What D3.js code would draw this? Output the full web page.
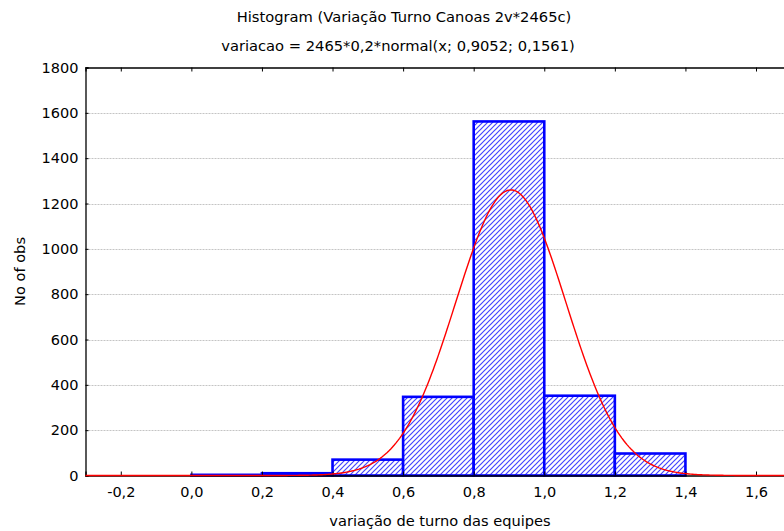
<!DOCTYPE html>
<html>
  <head>
    <meta charset="utf-8">
    <style>
      body { margin: 0; background: #fff; }
      svg { display: block; font-family: "DejaVu Sans", sans-serif; }
    </style>
  </head>
  <body>
    <script src="https://d3js.org/d3.v7.min.js"></script>
    <script type="text/javascript">

      // histogram bins (left edge of each 0,2 wide bin) and counts
      const binStarts = [0.0, 0.2, 0.4, 0.6, 0.8, 1.0, 1.2];
      const binCounts = [3, 10, 70, 347, 1562, 352, 97];
      const binWidth = 0.2;

      // fitted normal: 2465*0,2*normal(x; 0,9052; 0,1561)
      const nObs = 2465;
      const fitMean = 0.9052;
      const fitSd = 0.1561;

      const xTicks = [-0.2, 0.0, 0.2, 0.4, 0.6, 0.8, 1.0, 1.2, 1.4, 1.6];
      const yTicks = [0, 200, 400, 600, 800, 1000, 1200, 1400, 1600, 1800];

      const titleText = 'Histogram (Variação Turno Canoas 2v*2465c)';
      const subtitleText = 'variacao = 2465*0,2*normal(x; 0,9052; 0,1561)';
      const xTitle = 'variação de turno das equipes';
      const yTitle = 'No of obs';

      const width = 784;
      const height = 531;
      const plotLeft = 85.5, plotTop = 67.5, plotBottom = 475.5;

      const svg = d3.select('body')
        .append('svg')
        .attr('width', width)
        .attr('height', height);

      const xScale = d3.scaleLinear()
        .domain([-0.3, 1.7])
        .range([plotLeft, plotLeft + 2 * 352.9]);

      const yScale = d3.scaleLinear()
        .domain([0, 1800])
        .range([plotBottom, plotTop]);

      const ptBr = d3.formatLocale({ decimal: ',', thousands: '.', grouping: [3], currency: ['', ''], minus: '-' });
      const fmtX = ptBr.format('.1f');

      // hatch pattern
      const defs = svg.append('defs');
      const pat = defs.append('pattern')
        .attr('id', 'hatch')
        .attr('patternUnits', 'userSpaceOnUse')
        .attr('width', 5)
        .attr('height', 5);
      pat.append('rect').attr('width', 5).attr('height', 5).attr('fill', '#fff');
      pat.append('path')
        .attr('d', 'M-1,6 L6,-1 M-1,1 L1,-1 M4,6 L6,4')
        .attr('stroke', '#4444ff')
        .attr('stroke-width', 1.2);

      // gridlines
      svg.append('g')
        .selectAll('line')
        .data(yTicks.filter((d) => d > 0 && d < 1800))
        .enter()
        .append('line')
        .attr('x1', plotLeft)
        .attr('x2', width)
        .attr('y1', (d) => Math.round(yScale(d)) + 0.5)
        .attr('y2', (d) => Math.round(yScale(d)) + 0.5)
        .attr('stroke', '#c4c4c4')
        .attr('stroke-dasharray', '2,1');

      // bars
      svg.append('g')
        .selectAll('rect')
        .data(binStarts.map((s, i) => ({ x0: s, x1: s + binWidth, n: binCounts[i] })))
        .enter()
        .append('rect')
        .attr('x', (d) => xScale(d.x0))
        .attr('width', (d) => xScale(d.x1) - xScale(d.x0))
        .attr('y', (d) => yScale(d.n))
        .attr('height', (d) => yScale(0) - yScale(d.n))
        .attr('fill', 'url(#hatch)')
        .attr('stroke', '#0000ff')
        .attr('stroke-width', 2.6);

      // axes
      const axisLeft = d3.axisLeft(yScale).tickValues(yTicks).tickSize(-3).tickPadding(7).tickFormat(d3.format('d'));
      svg.append('g')
        .attr('class', 'axis')
        .attr('transform', `translate(${plotLeft}, 0)`)
        .call(axisLeft);

      const axisBottom = d3.axisBottom(xScale).tickValues(xTicks).tickSize(-4).tickPadding(11).tickFormat(fmtX);
      svg.append('g')
        .attr('class', 'axis')
        .attr('transform', `translate(0, ${plotBottom})`)
        .call(axisBottom);

      const axisTop = d3.axisTop(xScale).tickValues(xTicks).tickSize(-4).tickFormat('');
      svg.append('g')
        .attr('class', 'axis')
        .attr('transform', `translate(0, ${plotTop})`)
        .call(axisTop);

      svg.selectAll('.axis path.domain').attr('stroke', '#000').attr('stroke-width', 1.3);
      svg.selectAll('.axis line').attr('stroke', '#000');
      svg.selectAll('.axis text').attr('font-size', 14.5).attr('fill', '#000').attr('font-family', '"DejaVu Sans", sans-serif');

      // fitted normal curve
      const fitY = (x) => nObs * binWidth * Math.exp(-0.5 * ((x - fitMean) / fitSd) ** 2) / (fitSd * Math.sqrt(2 * Math.PI));
      const curveXs = d3.range(-0.3, 1.7001, 0.005);
      const line = d3.line().x((d) => xScale(d)).y((d) => yScale(fitY(d)));
      svg.append('path')
        .attr('d', line(curveXs))
        .attr('fill', 'none')
        .attr('stroke', '#ff0000')
        .attr('stroke-width', 1.4);

      // titles
      svg.append('text')
        .attr('x', 404).attr('y', 22)
        .attr('text-anchor', 'middle')
        .attr('font-size', 14.7)
        .text(titleText);
      svg.append('text')
        .attr('x', 398).attr('y', 51)
        .attr('text-anchor', 'middle')
        .attr('font-size', 14.7)
        .text(subtitleText);
      svg.append('text')
        .attr('x', 440).attr('y', 526)
        .attr('text-anchor', 'middle')
        .attr('font-size', 14.6)
        .text(xTitle);
      svg.append('text')
        .attr('transform', `translate(25, ${(plotTop + plotBottom) / 2}) rotate(-90)`)
        .attr('text-anchor', 'middle')
        .attr('font-size', 14.6)
        .text(yTitle);

    </script>
  </body>
</html>
